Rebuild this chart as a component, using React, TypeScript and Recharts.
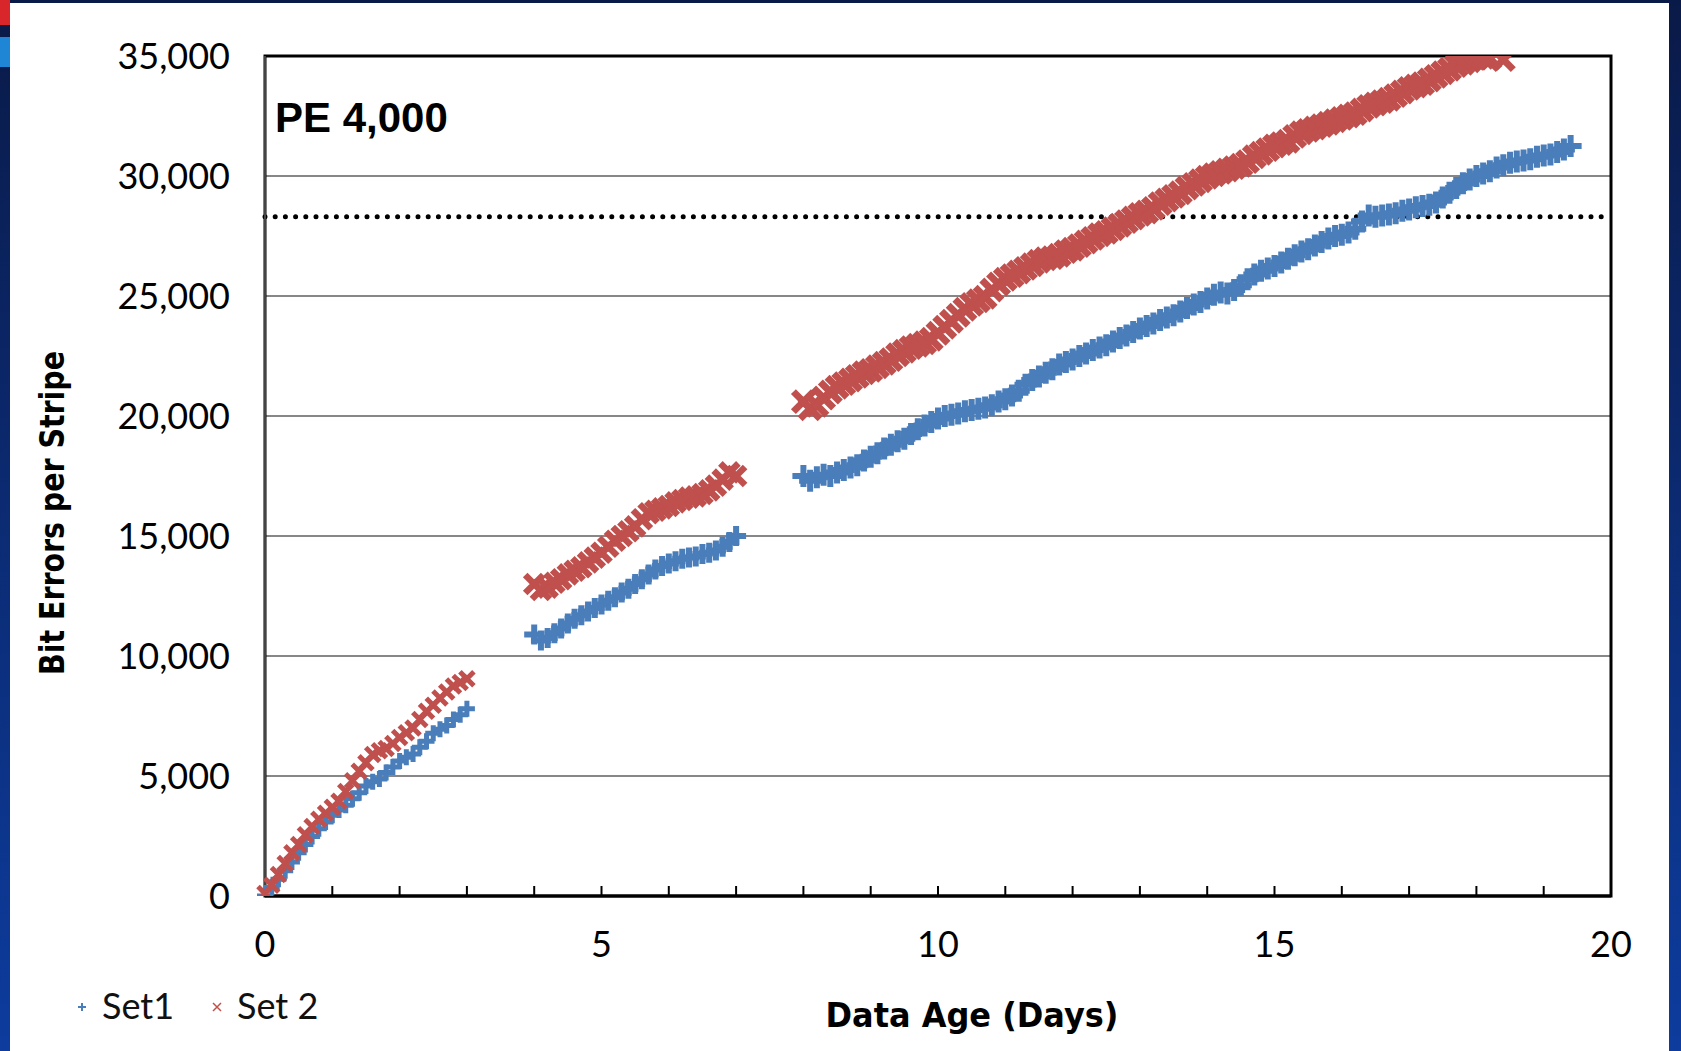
import React from 'react';
import {
    ScatterChart,
    Scatter,
    XAxis,
    YAxis,
    CartesianGrid,
    ReferenceLine,
    ReferenceArea
} from 'recharts';

// [day, bit errors], one point every 0.1 day
const SET1_RUN1: [number, number][] = [
    [0, 0], [0.1, 350], [0.2, 700], [0.3, 1050], [0.4, 1420], [0.5, 1800], [0.6, 2150], [0.7, 2480],
    [0.8, 2800], [0.9, 3080], [1.0, 3360], [1.1, 3580], [1.2, 3780], [1.3, 4050], [1.4, 4300],
    [1.5, 4580], [1.6, 4760], [1.7, 4880], [1.8, 5150], [1.9, 5380], [2.0, 5620], [2.1, 5780],
    [2.2, 5920], [2.3, 6200], [2.4, 6450], [2.5, 6780], [2.6, 6950], [2.7, 7100], [2.8, 7350],
    [2.9, 7550], [3.0, 7800],
];
const SET1_RUN2: [number, number][] = [
    [4.0, 10900], [4.1, 10650], [4.2, 10750], [4.3, 10950], [4.4, 11150], [4.5, 11350], [4.6, 11550],
    [4.7, 11700], [4.8, 11850], [4.9, 12000], [5.0, 12150], [5.1, 12300], [5.2, 12450], [5.3, 12650],
    [5.4, 12800], [5.5, 13000], [5.6, 13200], [5.7, 13400], [5.8, 13600], [5.9, 13750], [6.0, 13850],
    [6.1, 13950], [6.2, 14050], [6.3, 14100], [6.4, 14150], [6.5, 14250], [6.6, 14300], [6.7, 14400],
    [6.8, 14550], [6.9, 14750], [7.0, 15000],
];
const SET1_RUN3: [number, number][] = [
    [8.0, 17500], [8.1, 17300], [8.2, 17450], [8.3, 17550], [8.4, 17500], [8.5, 17650], [8.6, 17750],
    [8.7, 17850], [8.8, 17950], [8.9, 18150], [9.0, 18300], [9.1, 18450], [9.2, 18650], [9.3, 18800],
    [9.4, 18950], [9.5, 19050], [9.6, 19250], [9.7, 19450], [9.8, 19600], [9.9, 19750], [10.0, 19900],
    [10.1, 20000], [10.2, 20050], [10.3, 20100], [10.4, 20200], [10.5, 20250], [10.6, 20300],
    [10.7, 20350], [10.8, 20450], [10.9, 20600], [11.0, 20700], [11.1, 20850], [11.2, 21050],
    [11.3, 21300], [11.4, 21500], [11.5, 21650], [11.6, 21800], [11.7, 21950], [11.8, 22150],
    [11.9, 22250], [12.0, 22350], [12.1, 22500], [12.2, 22600], [12.3, 22750], [12.4, 22850],
    [12.5, 22950], [12.6, 23100], [12.7, 23250], [12.8, 23350], [12.9, 23500], [13.0, 23650],
    [13.1, 23750], [13.2, 23850], [13.3, 24000], [13.4, 24100], [13.5, 24200], [13.6, 24350],
    [13.7, 24500], [13.8, 24650], [13.9, 24750], [14.0, 24900], [14.1, 25050], [14.2, 25150],
    [14.3, 25100], [14.4, 25250], [14.5, 25450], [14.6, 25700], [14.7, 25900], [14.8, 26050],
    [14.9, 26150], [15.0, 26250], [15.1, 26400], [15.2, 26550], [15.3, 26700], [15.4, 26850],
    [15.5, 26950], [15.6, 27100], [15.7, 27250], [15.8, 27400], [15.9, 27500], [16.0, 27550],
    [16.1, 27650], [16.2, 27800], [16.3, 28100], [16.4, 28350], [16.5, 28300], [16.6, 28350],
    [16.7, 28400], [16.8, 28450], [16.9, 28550], [17.0, 28600], [17.1, 28700], [17.2, 28750],
    [17.3, 28800], [17.4, 28900], [17.5, 29100], [17.6, 29300], [17.7, 29500], [17.8, 29700],
    [17.9, 29850], [18.0, 30000], [18.1, 30100], [18.2, 30200], [18.3, 30350], [18.4, 30450],
    [18.5, 30550], [18.6, 30600], [18.7, 30650], [18.8, 30700], [18.9, 30800], [19.0, 30850],
    [19.1, 30900], [19.2, 31000], [19.3, 31100], [19.4, 31250],
];

const SET2_RUN1: [number, number][] = [
    [0, 100], [0.1, 450], [0.2, 900], [0.3, 1350], [0.4, 1800], [0.5, 2150], [0.6, 2550], [0.7, 2900],
    [0.8, 3200], [0.9, 3450], [1.0, 3700], [1.1, 3950], [1.2, 4350], [1.3, 4800], [1.4, 5200],
    [1.5, 5550], [1.6, 5900], [1.7, 6050], [1.8, 6150], [1.9, 6350], [2.0, 6600], [2.1, 6800],
    [2.2, 7000], [2.3, 7350], [2.4, 7700], [2.5, 7950], [2.6, 8250], [2.7, 8500], [2.8, 8750],
    [2.9, 8900], [3.0, 9050],
];
const SET2_RUN2: [number, number][] = [
    [4.0, 13000], [4.1, 12750], [4.2, 12850], [4.3, 13050], [4.4, 13200], [4.5, 13400], [4.6, 13550],
    [4.7, 13700], [4.8, 13900], [4.9, 14100], [5.0, 14300], [5.1, 14550], [5.2, 14800], [5.3, 15000],
    [5.4, 15200], [5.5, 15400], [5.6, 15700], [5.7, 15950], [5.8, 16050], [5.9, 16150], [6.0, 16250],
    [6.1, 16400], [6.2, 16500], [6.3, 16600], [6.4, 16650], [6.5, 16750], [6.6, 16900], [6.7, 17100],
    [6.8, 17350], [6.9, 17650], [7.0, 17500],
];
const SET2_RUN3: [number, number][] = [
    [8.0, 20600], [8.1, 20300], [8.2, 20450], [8.3, 20750], [8.4, 21000], [8.5, 21200], [8.6, 21350],
    [8.7, 21500], [8.8, 21650], [8.9, 21800], [9.0, 21900], [9.1, 22050], [9.2, 22200], [9.3, 22350],
    [9.4, 22550], [9.5, 22700], [9.6, 22850], [9.7, 22950], [9.8, 23050], [9.9, 23200], [10.0, 23450],
    [10.1, 23700], [10.2, 23950], [10.3, 24200], [10.4, 24450], [10.5, 24650], [10.6, 24800],
    [10.7, 24950], [10.8, 25250], [10.9, 25500], [11.0, 25700], [11.1, 25850], [11.2, 26000],
    [11.3, 26150], [11.4, 26300], [11.5, 26450], [11.6, 26550], [11.7, 26600], [11.8, 26700],
    [11.9, 26850], [12.0, 26950], [12.1, 27100], [12.2, 27250], [12.3, 27400], [12.4, 27550],
    [12.5, 27650], [12.6, 27800], [12.7, 27950], [12.8, 28100], [12.9, 28250], [13.0, 28400],
    [13.1, 28500], [13.2, 28650], [13.3, 28850], [13.4, 29000], [13.5, 29150], [13.6, 29300],
    [13.7, 29500], [13.8, 29650], [13.9, 29800], [14.0, 29950], [14.1, 30050], [14.2, 30150],
    [14.3, 30250], [14.4, 30350], [14.5, 30450], [14.6, 30600], [14.7, 30800], [14.8, 30950],
    [14.9, 31100], [15.0, 31250], [15.1, 31350], [15.2, 31450], [15.3, 31650], [15.4, 31800],
    [15.5, 31900], [15.6, 32000], [15.7, 32100], [15.8, 32200], [15.9, 32300], [16.0, 32400],
    [16.1, 32500], [16.2, 32600], [16.3, 32750], [16.4, 32900], [16.5, 33000], [16.6, 33100],
    [16.7, 33200], [16.8, 33350], [16.9, 33500], [17.0, 33650], [17.1, 33750], [17.2, 33850],
    [17.3, 34000], [17.4, 34150], [17.5, 34300], [17.6, 34450], [17.7, 34600], [17.8, 34700],
    [17.9, 34800], [18.0, 34900], [18.1, 34950], [18.2, 34900], [18.4, 34850],
];

const Y_TICKS = [0, 5000, 10000, 15000, 20000, 25000, 30000, 35000];
const X_TICKS = [0, 1, 2, 3, 4, 5, 6, 7, 8, 9, 10, 11, 12, 13, 14, 15, 16, 17, 18, 19, 20];
const X_LABELS = [0, 5, 10, 15, 20];
const LIMIT = 28300;

const BLUE = '#4a7ebb';
const RED = '#c0504d';
const TICK_FONT = 'Lato, "Liberation Sans", sans-serif';
const TITLE_FONT = '"DejaVu Sans", sans-serif';

const toPoints = (run: [number, number][]) => run.map(([day, errors]) => ({ day, errors }));

// markers are drawn large so the dense point cloud reads as a band like in the original
const plusMark = (a: number, w: number) => ({ cx, cy }: any) => (
    <path d={`M${cx - a},${cy}H${cx + a}M${cx},${cy - a}V${cy + a}`} stroke={BLUE} strokeWidth={w} />
);
const crossMark = (a: number, w: number) => ({ cx, cy }: any) => (
    <path
        d={`M${cx - a},${cy - a}L${cx + a},${cy + a}M${cx - a},${cy + a}L${cx + a},${cy - a}`}
        stroke={RED}
        strokeWidth={w}
    />
);

function DayTick({ x, y, payload }: any) {
    const v = payload.value;
    return (
        <g>
            {v > 0 && v < 20 && (
                <line x1={x} x2={x} y1={y} y2={y - 10} stroke="#000" strokeWidth={2} />
            )}
            {X_LABELS.includes(v) && (
                <text x={x} y={y + 61} textAnchor="middle" fill="#000" fontSize={36} fontFamily={TICK_FONT}>
                    {v}
                </text>
            )}
        </g>
    );
}

export default function App() {
    return (
        <div
            style={{
                position: 'absolute',
                left: 0,
                top: 0,
                width: 1681,
                height: 1051,
                overflow: 'hidden',
                background: 'linear-gradient(to bottom, #0a1a48, #0d3c9e)'
            }}
        >
            <div style={{ position: 'absolute', left: 0, top: 0, width: 10, height: 25, background: '#d8262a' }} />
            <div style={{ position: 'absolute', left: 0, top: 37, width: 10, height: 30, background: '#1f86d6' }} />
            <div style={{ position: 'absolute', left: 10, top: 3, width: 1659, height: 1048, background: '#fff' }} />

            <div style={{ position: 'absolute', left: 0, top: 0 }}>
                <ScatterChart
                    width={1681}
                    height={1051}
                    margin={{ top: 56, right: 70, bottom: 95, left: 165 }}
                >
                    <CartesianGrid horizontal vertical={false} stroke="#878787" strokeWidth={2} />
                    <XAxis
                        type="number"
                        dataKey="day"
                        domain={[0, 20]}
                        ticks={X_TICKS}
                        interval={0}
                        height={60}
                        tickSize={0}
                        tickMargin={0}
                        tickLine={false}
                        axisLine={{ stroke: '#000', strokeWidth: 3 }}
                        tick={<DayTick />}
                    />
                    <YAxis
                        type="number"
                        dataKey="errors"
                        domain={[0, 35000]}
                        ticks={Y_TICKS}
                        interval={0}
                        width={100}
                        tickSize={0}
                        tickMargin={35}
                        tickLine={false}
                        axisLine={{ stroke: '#444', strokeWidth: 2 }}
                        tick={{ fill: '#000', fontSize: 36, fontFamily: TICK_FONT }}
                        tickFormatter={(v: number) => v.toLocaleString('en-US')}
                        allowDataOverflow
                    />
                    <ReferenceLine
                        y={LIMIT}
                        stroke="#000"
                        strokeWidth={5}
                        strokeDasharray="0 10.2"
                        strokeLinecap="round"
                    />
                    <Scatter name="Set1" data={toPoints(SET1_RUN1)} shape={plusMark(8, 5)} isAnimationActive={false} />
                    <Scatter name="Set1" data={toPoints(SET1_RUN2)} shape={plusMark(10, 6)} isAnimationActive={false} />
                    <Scatter name="Set1" data={toPoints(SET1_RUN3)} shape={plusMark(11, 6)} isAnimationActive={false} />
                    <Scatter name="Set 2" data={toPoints(SET2_RUN1)} shape={crossMark(7, 5)} isAnimationActive={false} />
                    <Scatter name="Set 2" data={toPoints(SET2_RUN2)} shape={crossMark(9, 6.5)} isAnimationActive={false} />
                    <Scatter name="Set 2" data={toPoints(SET2_RUN3)} shape={crossMark(10, 7)} isAnimationActive={false} />
                    <ReferenceArea
                        x1={0}
                        x2={20}
                        y1={0}
                        y2={35000}
                        fill="none"
                        stroke="#000"
                        strokeWidth={3}
                        ifOverflow="visible"
                    />
                </ScatterChart>
            </div>

            <svg
                width={1681}
                height={1051}
                style={{ position: 'absolute', left: 0, top: 0, pointerEvents: 'none' }}
            >
                <text x={275} y={132} fontSize={42} fontWeight="bold" fontFamily='"Liberation Sans", sans-serif' fill="#000">
                    PE 4,000
                </text>
                <text
                    transform="translate(64,513) rotate(-90)"
                    textAnchor="middle"
                    fontSize={34}
                    fontWeight="bold"
                    fontFamily={TITLE_FONT}
                    textLength={324}
                    lengthAdjust="spacingAndGlyphs"
                    fill="#000"
                >
                    Bit Errors per Stripe
                </text>
                <text
                    x={972}
                    y={1027}
                    textAnchor="middle"
                    fontSize={34}
                    fontWeight="bold"
                    fontFamily={TITLE_FONT}
                    textLength={293}
                    lengthAdjust="spacingAndGlyphs"
                    fill="#000"
                >
                    Data Age (Days)
                </text>
                <path d="M78,1007H86M82,1003V1011" stroke={BLUE} strokeWidth={2} />
                <text x={102} y={1019} fontSize={36} fontFamily={TICK_FONT} fill="#111">Set1</text>
                <path d="M213,1003L221,1011M213,1011L221,1003" stroke={RED} strokeWidth={1.5} />
                <text x={237} y={1019} fontSize={36} fontFamily={TICK_FONT} fill="#111">Set 2</text>
            </svg>
        </div>
    );
}
